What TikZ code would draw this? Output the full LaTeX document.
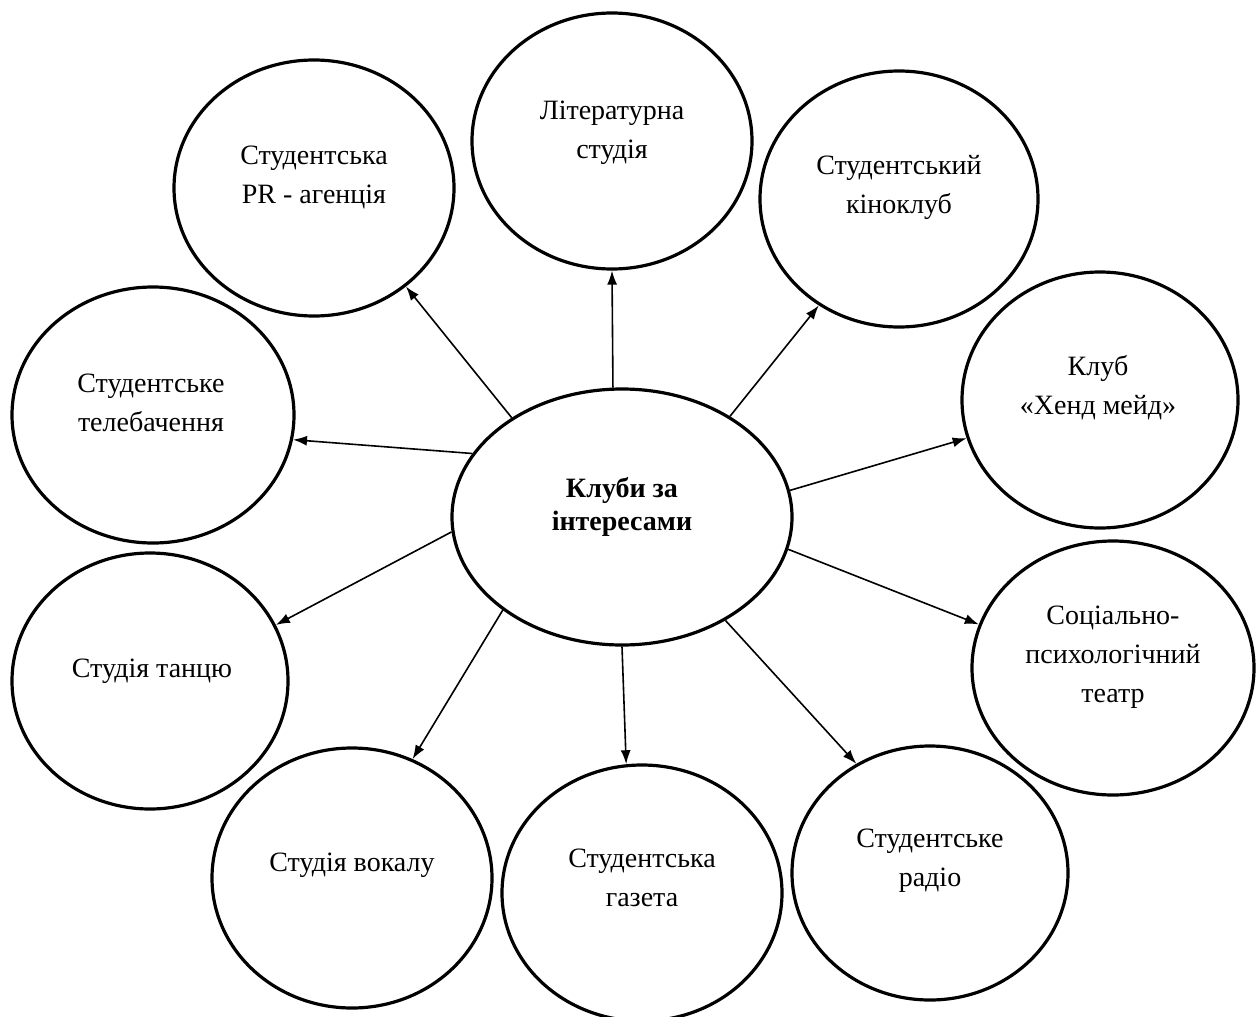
\documentclass[tikz,border=0pt]{standalone}
\usepackage{fontspec}
\setmainfont{Liberation Serif}
\usetikzlibrary{shapes.geometric,arrows.meta}
\begin{document}
\begin{tikzpicture}[x=1pt,y=-1pt,
  ell/.style={draw=black,line width=3.2pt,ellipse,inner sep=0pt,minimum width=280pt,minimum height=256pt},
  lbl/.style={align=center,inner sep=0pt,font=\fontsize{28}{39}\selectfont},
  arr/.style={line width=1.6pt,-{Latex[length=14pt,width=10pt]}}]
\useasboundingbox (0,0) rectangle (1256,1017);
% circles
\node[ell,minimum width=340pt] (c) at (622,517) {};
\node[ell] (lit) at (612,141) {};
\node[ell] (pr) at (314,188) {};
\node[ell,minimum width=278pt] (kino) at (899,199) {};
\node[ell,minimum width=276pt] (hand) at (1100,400) {};
\node[ell,minimum width=282pt] (tv) at (153,415) {};
\node[ell,minimum width=276pt] (dance) at (150,681) {};
\node[ell,minimum height=260pt] (vocal) at (352,878) {};
\node[ell] (gaz) at (642,893) {};
\node[ell,minimum width=276pt,minimum height=254pt] (radio) at (930,873) {};
\node[ell,minimum width=282pt,minimum height=254pt] (teatr) at (1113,668) {};
% texts
\node[lbl,font=\fontsize{28}{33}\selectfont\bfseries] (c-t) at (622,507) {Клуби за\\інтересами};
\node[lbl] (lit-t) at (612,133) {Літературна\\студія};
\node[lbl] (pr-t) at (314,177) {Студентська\\PR - агенція};
\node[lbl] (kino-t) at (899,187) {Студентський\\кіноклуб};
\node[lbl] (hand-t) at (1098,388) {Клуб\\«Хенд мейд»};
\node[lbl] (tv-t) at (151,403) {Студентське\\телебачення};
\node[lbl] (dance-t) at (152,671) {Студія танцю};
\node[lbl] (vocal-t) at (352,865) {Студія вокалу};
\node[lbl] (gaz-t) at (642,878) {Студентська\\газета};
\node[lbl] (radio-t) at (930,861) {Студентське\\радіо};
\node[lbl] (teatr-t) at (1113,657) {Соціально-\\психологічний\\театр};
% arrows
\draw[arr] (c.94.5) -- (lit.270);
\draw[arr] (c.138) -- (pr.313);
\draw[arr] (c.43.4) -- (kino.233);
\draw[arr] (c.9) -- (hand.196);
\draw[arr] (c.157.5) -- (tv.-10.8);
\draw[arr] (c.-11.4) -- (teatr.162);
\draw[arr] (c.185) -- (dance.24);
\draw[arr] (c.218) -- (vocal.63.2);
\draw[arr] (c.270) -- (gaz.97.9);
\draw[arr] (c.315) -- (radio.124.9);
\end{tikzpicture}
\end{document}
